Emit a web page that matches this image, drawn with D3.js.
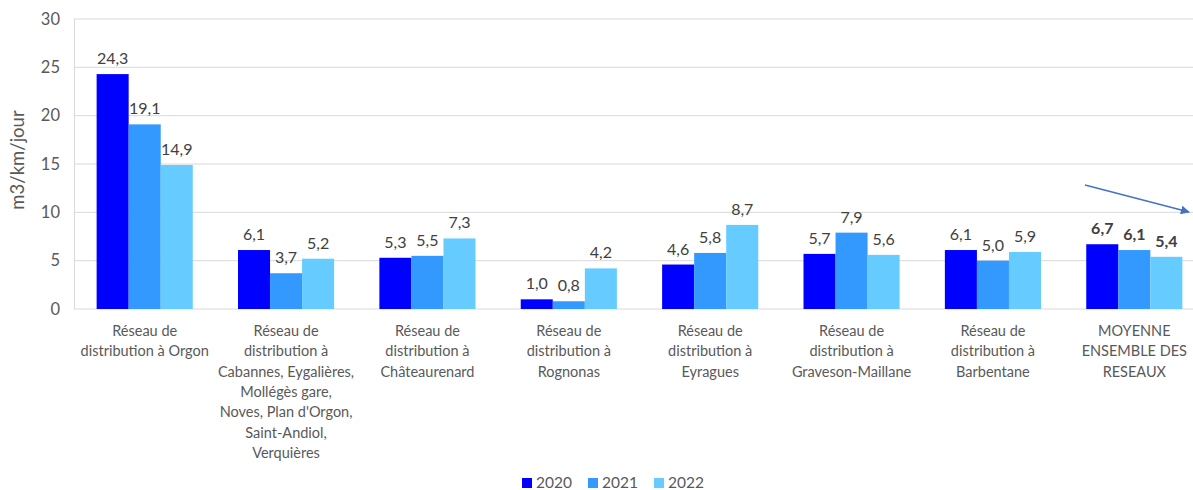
<!DOCTYPE html>
<html>
<head>
<meta charset="utf-8">
<script src="https://cdn.jsdelivr.net/npm/d3@7"></script>
<style>
  body { margin: 0; background: #fff; }
  svg { display: block; font-family: Lato, "Open Sans", sans-serif; }
</style>
</head>
<body>
<svg id="chart" width="1193" height="490"></svg>
<script>
// Data.
var categories = [
  ["Réseau de", "distribution à Orgon"],
  ["Réseau de", "distribution à", "Cabannes, Eygalières,", "Mollégès gare,", "Noves, Plan d'Orgon,", "Saint-Andiol,", "Verquières"],
  ["Réseau de", "distribution à", "Châteaurenard"],
  ["Réseau de", "distribution à", "Rognonas"],
  ["Réseau de", "distribution à", "Eyragues"],
  ["Réseau de", "distribution à", "Graveson-Maillane"],
  ["Réseau de", "distribution à", "Barbentane"],
  ["MOYENNE", "ENSEMBLE DES", "RESEAUX"]
];
var years = ["2020", "2021", "2022"];
var values2020 = [24.3, 6.1, 5.3, 1.0, 4.6, 5.7, 6.1, 6.7];
var values2021 = [19.1, 3.7, 5.5, 0.8, 5.8, 7.9, 5.0, 6.1];
var values2022 = [14.9, 5.2, 7.3, 4.2, 8.7, 5.6, 5.9, 5.4];
var yTicks = [0, 5, 10, 15, 20, 25, 30];
var colors = ["#0000ff", "#3399ff", "#66ccff"];

var series = [values2020, values2021, values2022];

var svg = d3.select('#chart');
var LEFT = 74, RIGHT = 1205, TOP = 19, BOTTOM = 309;

var x = d3.scaleBand()
  .domain(d3.range(categories.length))
  .range([LEFT, RIGHT])
  .paddingInner(0.32)
  .paddingOuter(0.16);

var xi = d3.scaleBand()
  .domain(d3.range(years.length))
  .range([0, x.bandwidth()]);

var y = d3.scaleLinear().domain([0, 30]).range([BOTTOM, TOP]);

// Gridlines
svg.append('g')
  .selectAll('line')
  .data(yTicks)
  .enter()
  .append('line')
  .attr('x1', LEFT).attr('x2', RIGHT)
  .attr('y1', function(d){ return y(d); })
  .attr('y2', function(d){ return y(d); })
  .attr('stroke', '#d9d9d9')
  .attr('stroke-width', 1);

svg.append('line')
  .attr('x1', LEFT + 0.5).attr('x2', LEFT + 0.5)
  .attr('y1', TOP).attr('y2', BOTTOM)
  .attr('stroke', '#d9d9d9');

// Y axis
var yAxis = svg.append('g')
  .attr('transform', 'translate(' + LEFT + ',0)')
  .call(d3.axisLeft(y).tickValues(yTicks).tickSize(0).tickPadding(14));
yAxis.select('.domain').remove();
yAxis.selectAll('text')
  .attr('fill', '#595959')
  .attr('font-size', 16.5)
  .attr('font-family', 'Lato, "Open Sans", sans-serif');

svg.append('text')
  .attr('transform', 'translate(24,' + ((TOP + BOTTOM) / 2 - 4) + ') rotate(-90)')
  .attr('text-anchor', 'middle')
  .attr('fill', '#595959')
  .attr('font-size', 18.5)
  .text('m3/km/jour');

// Bars
series.forEach(function(vals, s) {
  var g = svg.append('g');
  g.selectAll('rect')
    .data(vals)
    .enter()
    .append('rect')
    .attr('x', function(d, i){ return x(i) + xi(s); })
    .attr('width', xi.bandwidth())
    .attr('y', function(d){ return y(d); })
    .attr('height', function(d){ return BOTTOM - y(d); })
    .attr('fill', colors[s]);

  g.selectAll('text')
    .data(vals)
    .enter()
    .append('text')
    .attr('x', function(d, i){ return x(i) + xi(s) + xi.bandwidth() / 2; })
    .attr('y', function(d){ return y(d) - 10; })
    .attr('text-anchor', 'middle')
    .attr('fill', '#404040')
    .attr('font-size', 16)
    .attr('font-weight', function(d, i){ return i === categories.length - 1 ? 'bold' : 'normal'; })
    .text(function(d){ return d3.format('.1f')(d).replace('.', ','); });
});

// Category labels
var cat = svg.append('g')
  .selectAll('text')
  .data(categories)
  .enter()
  .append('text')
  .attr('text-anchor', 'middle')
  .attr('fill', '#595959')
  .attr('font-size', 14.5);
cat.selectAll('tspan')
  .data(function(d, i){ return d.map(function(l){ return {line: l, i: i}; }); })
  .enter()
  .append('tspan')
  .attr('x', function(d){ return x(d.i) + x.bandwidth() / 2; })
  .attr('y', function(d, j){ return 336 + j * 20.3; })
  .text(function(d){ return d.line; });

// Arrow (trend)
svg.append('defs').append('marker')
  .attr('id', 'head')
  .attr('viewBox', '0 0 10 10')
  .attr('refX', 9).attr('refY', 5)
  .attr('markerWidth', 6).attr('markerHeight', 6)
  .attr('orient', 'auto')
  .append('path')
  .attr('d', 'M0,0L10,5L0,10Z')
  .attr('fill', '#4472c4');
svg.append('line')
  .attr('x1', 1085).attr('y1', 185)
  .attr('x2', 1189).attr('y2', 212)
  .attr('stroke', '#4472c4')
  .attr('stroke-width', 1.5)
  .attr('marker-end', 'url(#head)');

// Legend
var legend = svg.append('g')
  .selectAll('g')
  .data(years)
  .enter()
  .append('g')
  .attr('transform', function(d, i){ return 'translate(' + (522 + i * 66) + ',478)'; });
legend.append('rect')
  .attr('width', 10).attr('height', 10)
  .attr('fill', function(d, i){ return colors[i]; });
legend.append('text')
  .attr('x', 14).attr('y', 10)
  .attr('fill', '#595959')
  .attr('font-size', 15.5)
  .text(function(d){ return d; });
</script>
</body>
</html>
